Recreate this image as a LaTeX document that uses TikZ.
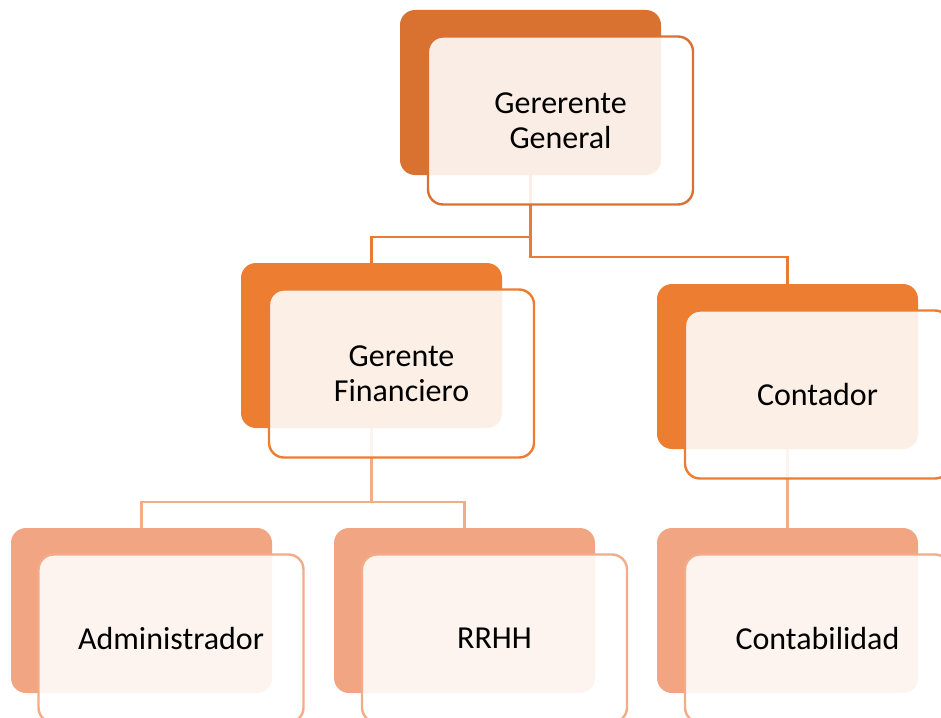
\documentclass[tikz,border=0pt]{standalone}
\usepackage{fontspec}
\setmainfont{Carlito}
\definecolor{darkA}{HTML}{D97130}
\definecolor{lineA}{HTML}{DA7132}
\definecolor{connAcol}{HTML}{E97B36}
\definecolor{darkB}{HTML}{ED7D31}
\definecolor{lineB}{HTML}{ED7D31}
\definecolor{darkC}{HTML}{F2A582}
\definecolor{lineC}{HTML}{F3AC88}
\tikzset{
  backbox/.style={rectangle, rounded corners=15pt, minimum width=261pt, minimum height=165pt, inner sep=0pt, draw=none},
  frontbox/.style={rectangle, rounded corners=15pt, minimum width=265pt, minimum height=168pt, inner sep=0pt,
     fill=white, fill opacity=0.88, text opacity=1, line width=2.4pt, align=center,
     font=\fontsize{32}{35}\selectfont},
  connA/.style={draw=connAcol, line width=2.5pt},
  connB/.style={draw=lineC, line width=2.5pt},
}
\begin{document}
\begin{tikzpicture}[x=1pt,y=-1pt]
\clip (0,0) rectangle (941,717);
\useasboundingbox (0,0) rectangle (941,717);
% back boxes
\node[backbox, fill=darkA] (g) at (530.5,92.5) {};
\node[backbox, fill=darkB] (f) at (371.5,345.5) {};
\node[backbox, fill=darkB] (c) at (787.5,366.5) {};
\node[backbox, fill=darkC] (a) at (141.5,610.5) {};
\node[backbox, fill=darkC] (r) at (464.5,610.5) {};
\node[backbox, fill=darkC] (cb) at (787.5,610.5) {};
% connectors
\draw[connA] (g.south) -- ++(0,62) -| (f.north);
\draw[connA] (g.south) -- ++(0,82) -| (c.north);
\draw[connB] (f.south) -- ++(0,74) -| (a.north);
\draw[connB] (f.south) -- ++(0,74) -| (r.north);
\draw[connB] (c.south) -- (cb.north);
% front boxes
\node[frontbox, draw=lineA] (gt) at (560.5,120.5) {Gererente\\General};
\node[frontbox, draw=lineB] (ft) at (401.5,373.5) {Gerente\\Financiero};
\node[frontbox, draw=lineB] (ct) at (817.5,394.5) {Contador};
\node[frontbox, draw=lineC] (at) at (171,638.5) {Administrador};
\node[frontbox, draw=lineC] (rt) at (494.5,638.5) {RRHH};
\node[frontbox, draw=lineC] (cbt) at (817.5,638.5) {Contabilidad};
\end{tikzpicture}
\end{document}
